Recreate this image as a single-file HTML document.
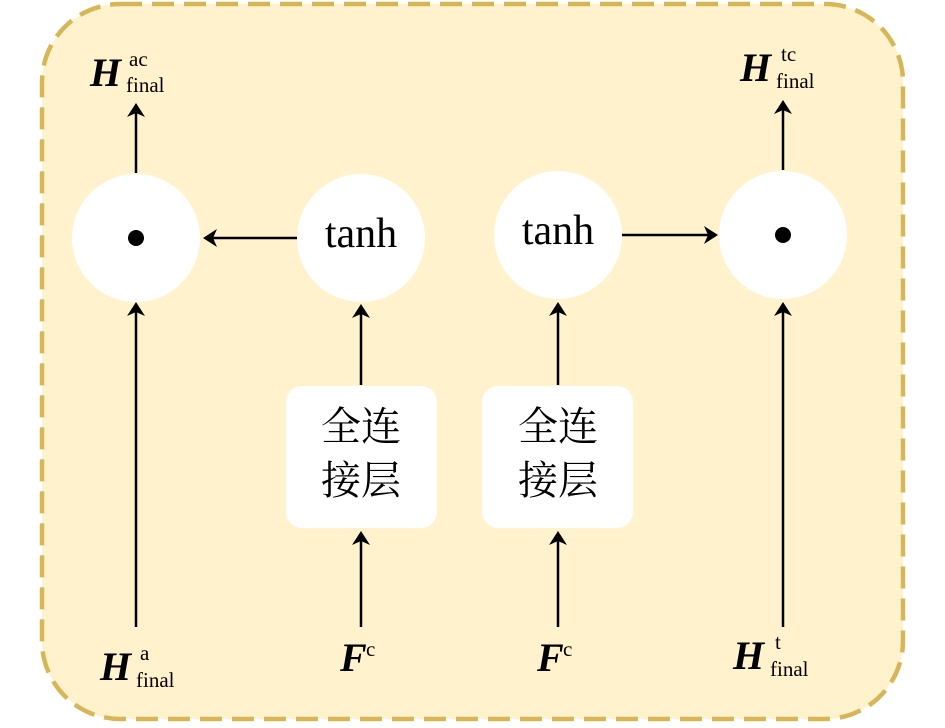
<!DOCTYPE html>
<html><head><meta charset="utf-8"><style>
body{margin:0;background:#fff;}
svg text{font-family:"Liberation Serif","Noto Serif CJK SC",serif;}
</style></head><body>
<svg width="945" height="723" viewBox="0 0 945 723" xmlns="http://www.w3.org/2000/svg">
<defs><marker id="b" markerWidth="14" markerHeight="18" refX="12" refY="9" orient="auto" markerUnits="userSpaceOnUse"><path d="M0,0 L14,9 L0,18 L4,9 Z" fill="#000"/></marker></defs>
<rect x="42" y="4" width="861" height="715" rx="78" fill="#fff2cc" stroke="#d6b656" stroke-width="4.5" stroke-dasharray="22,10"/>
<circle cx="136" cy="238" r="64" fill="#fff"/>
<circle cx="361" cy="238" r="64" fill="#fff"/>
<circle cx="558" cy="235" r="64" fill="#fff"/>
<circle cx="783" cy="235" r="64" fill="#fff"/>
<circle cx="136" cy="238" r="8" fill="#000"/>
<circle cx="783" cy="235" r="8" fill="#000"/>
<rect x="286" y="386" width="151" height="142" rx="16" fill="#fff"/>
<rect x="482" y="386" width="151" height="142" rx="16" fill="#fff"/>
<g stroke="#000" stroke-width="2.5" fill="none" marker-end="url(#b)">
<line x1="136" y1="627" x2="136" y2="304"/>
<line x1="136" y1="173" x2="136" y2="105"/>
<line x1="297" y1="238" x2="205" y2="238"/>
<line x1="361" y1="385" x2="361" y2="306"/>
<line x1="361" y1="627" x2="361" y2="533"/>
<line x1="558" y1="385" x2="558" y2="304"/>
<line x1="558" y1="627" x2="558" y2="533"/>
<line x1="622" y1="235" x2="716" y2="235"/>
<line x1="783" y1="627" x2="783" y2="304"/>
<line x1="783" y1="170" x2="783" y2="102"/>
</g>
<g text-anchor="middle" fill="#000">
<text x="361" y="247" font-size="42">tanh</text>
<text x="558" y="244" font-size="42">tanh</text>
<g font-size="40">
<text x="361" y="440">全连</text>
<text x="361" y="494">接层</text>
<text x="558" y="440">全连</text>
<text x="558" y="494">接层</text>
</g></g>
<g fill="#000">
<text x="90" y="86" font-size="40" font-style="italic" font-weight="bold">H</text>
<text x="129" y="66" font-size="21">ac</text><text x="126" y="92" font-size="21">final</text>
<text x="740" y="81" font-size="40" font-style="italic" font-weight="bold">H</text>
<text x="781" y="61" font-size="21">tc</text><text x="776" y="88" font-size="21">final</text>
<text x="100" y="680" font-size="40" font-style="italic" font-weight="bold">H</text>
<text x="140" y="660" font-size="21">a</text><text x="136" y="687" font-size="21">final</text>
<text x="733" y="669" font-size="40" font-style="italic" font-weight="bold">H</text>
<text x="775" y="649" font-size="21">t</text><text x="770" y="676" font-size="21">final</text>
<text x="340" y="671" font-size="40" font-style="italic" font-weight="bold">F</text>
<text x="366" y="656" font-size="21">c</text>
<text x="537" y="671" font-size="40" font-style="italic" font-weight="bold">F</text>
<text x="563" y="656" font-size="21">c</text>
</g>
</svg>
</body></html>
